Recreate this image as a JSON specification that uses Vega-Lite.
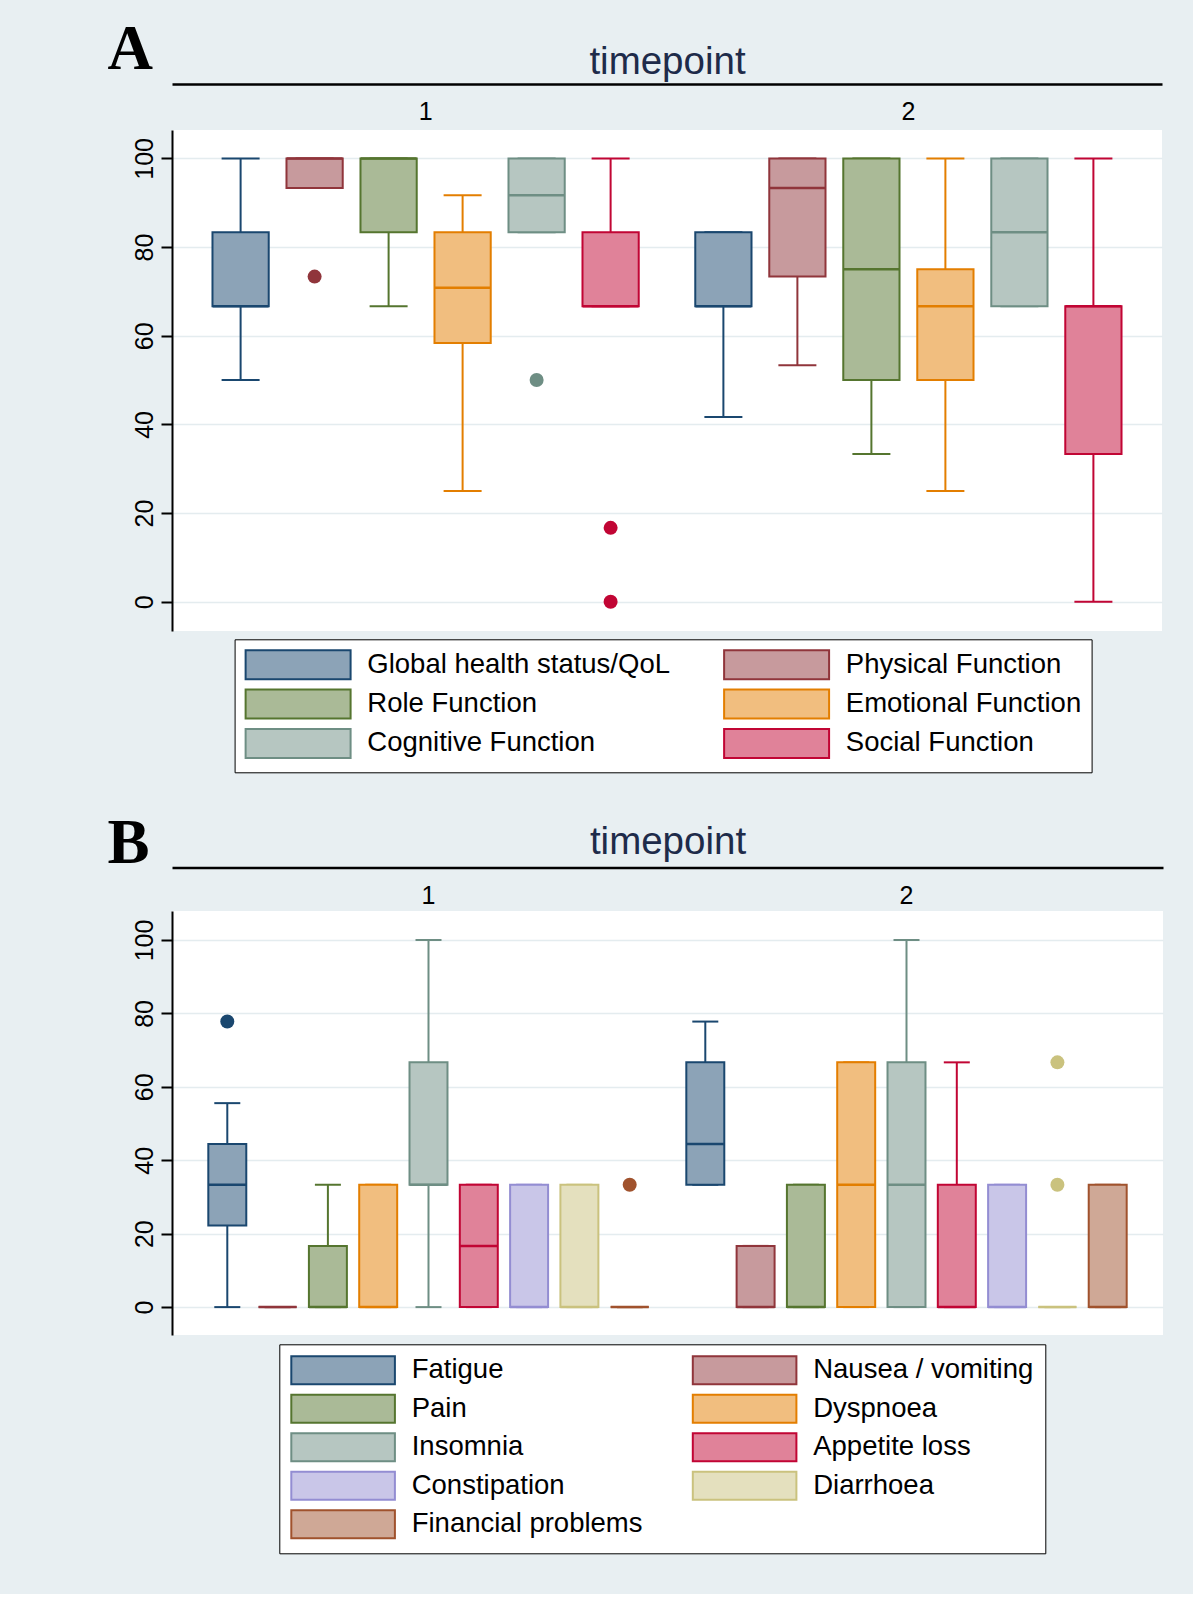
{
  "$schema": "https://vega.github.io/schema/vega-lite/v6.json",
  "background": "#e8eff2",
  "padding": {"left": 107, "top": 18, "right": 30, "bottom": 40},
  "spacing": 39,
  "datasets": {
    "boxA": [
      {"tp": "1", "v": "Global health status/QoL", "lo": 50, "q1": 66.67, "med": 66.67, "q3": 83.33, "hi": 100},
      {"tp": "1", "v": "Physical Function", "lo": 93.33, "q1": 93.33, "med": 100, "q3": 100, "hi": 100},
      {"tp": "1", "v": "Role Function", "lo": 66.67, "q1": 83.33, "med": 100, "q3": 100, "hi": 100},
      {"tp": "1", "v": "Emotional Function", "lo": 25, "q1": 58.33, "med": 70.83, "q3": 83.33, "hi": 91.67},
      {"tp": "1", "v": "Cognitive Function", "lo": 83.33, "q1": 83.33, "med": 91.67, "q3": 100, "hi": 100},
      {"tp": "1", "v": "Social Function", "lo": 66.67, "q1": 66.67, "med": 66.67, "q3": 83.33, "hi": 100},
      {"tp": "2", "v": "Global health status/QoL", "lo": 41.67, "q1": 66.67, "med": 66.67, "q3": 83.33, "hi": 83.33},
      {"tp": "2", "v": "Physical Function", "lo": 53.33, "q1": 73.33, "med": 93.33, "q3": 100, "hi": 100},
      {"tp": "2", "v": "Role Function", "lo": 33.33, "q1": 50, "med": 75, "q3": 100, "hi": 100},
      {"tp": "2", "v": "Emotional Function", "lo": 25, "q1": 50, "med": 66.67, "q3": 75, "hi": 100},
      {"tp": "2", "v": "Cognitive Function", "lo": 66.67, "q1": 66.67, "med": 83.33, "q3": 100, "hi": 100},
      {"tp": "2", "v": "Social Function", "lo": 0, "q1": 33.33, "med": 66.67, "q3": 66.67, "hi": 100}
    ],
    "outA": [
      {"tp": "1", "v": "Physical Function", "val": 73.33},
      {"tp": "1", "v": "Cognitive Function", "val": 50},
      {"tp": "1", "v": "Social Function", "val": 16.67},
      {"tp": "1", "v": "Social Function", "val": 0}
    ],
    "boxB": [
      {"tp": "1", "v": "Fatigue", "lo": 0, "q1": 22.22, "med": 33.33, "q3": 44.44, "hi": 55.56},
      {"tp": "1", "v": "Nausea / vomiting", "lo": 0, "q1": 0, "med": 0, "q3": 0, "hi": 0},
      {"tp": "1", "v": "Pain", "lo": 0, "q1": 0, "med": 0, "q3": 16.67, "hi": 33.33},
      {"tp": "1", "v": "Dyspnoea", "lo": 0, "q1": 0, "med": 0, "q3": 33.33, "hi": 33.33},
      {"tp": "1", "v": "Insomnia", "lo": 0, "q1": 33.33, "med": 33.33, "q3": 66.67, "hi": 100},
      {"tp": "1", "v": "Appetite loss", "lo": 0, "q1": 0, "med": 16.67, "q3": 33.33, "hi": 33.33},
      {"tp": "1", "v": "Constipation", "lo": 0, "q1": 0, "med": 0, "q3": 33.33, "hi": 33.33},
      {"tp": "1", "v": "Diarrhoea", "lo": 0, "q1": 0, "med": 0, "q3": 33.33, "hi": 33.33},
      {"tp": "1", "v": "Financial problems", "lo": 0, "q1": 0, "med": 0, "q3": 0, "hi": 0},
      {"tp": "2", "v": "Fatigue", "lo": 33.33, "q1": 33.33, "med": 44.44, "q3": 66.67, "hi": 77.78},
      {"tp": "2", "v": "Nausea / vomiting", "lo": 0, "q1": 0, "med": 0, "q3": 16.67, "hi": 16.67},
      {"tp": "2", "v": "Pain", "lo": 0, "q1": 0, "med": 0, "q3": 33.33, "hi": 33.33},
      {"tp": "2", "v": "Dyspnoea", "lo": 0, "q1": 0, "med": 33.33, "q3": 66.67, "hi": 66.67},
      {"tp": "2", "v": "Insomnia", "lo": 0, "q1": 0, "med": 33.33, "q3": 66.67, "hi": 100},
      {"tp": "2", "v": "Appetite loss", "lo": 0, "q1": 0, "med": 0, "q3": 33.33, "hi": 66.67},
      {"tp": "2", "v": "Constipation", "lo": 0, "q1": 0, "med": 0, "q3": 33.33, "hi": 33.33},
      {"tp": "2", "v": "Diarrhoea", "lo": 0, "q1": 0, "med": 0, "q3": 0, "hi": 0},
      {"tp": "2", "v": "Financial problems", "lo": 0, "q1": 0, "med": 0, "q3": 33.33, "hi": 33.33}
    ],
    "outB": [
      {"tp": "1", "v": "Fatigue", "val": 77.78},
      {"tp": "1", "v": "Financial problems", "val": 33.33},
      {"tp": "2", "v": "Diarrhoea", "val": 66.67},
      {"tp": "2", "v": "Diarrhoea", "val": 33.33}
    ]
  },
  "vconcat": [
    {
      "width": 990,
      "height": 501,
      "data": {"name": "boxA"},
      "encoding": {
        "x": {"field": "tp", "type": "nominal", "scale": {"paddingInner": 0, "paddingOuter": 0.0253}, "axis": null},
        "xOffset": {"field": "v", "type": "nominal", "scale": {"domain": ["Global health status/QoL", "Physical Function", "Role Function", "Emotional Function", "Cognitive Function", "Social Function"], "paddingInner": 0.24, "paddingOuter": 0.382}},
        "color": {"field": "v", "type": "nominal", "scale": {"range": ["#6e8e84", "#e37e00", "#1a476f", "#90353b", "#55752f", "#c10534"]}, "legend": null}
      },
      "layer": [
        {
          "mark": {"type": "rule", "strokeWidth": 2, "opacity": 1},
          "encoding": {
            "x": {"field": "tp", "type": "nominal", "scale": {"paddingInner": 0, "paddingOuter": 0.0253},
              "axis": {"orient": "top", "offset": 46, "title": "timepoint", "labels": false, "ticks": false, "tickSize": 0, "domain": true, "domainColor": "black", "domainWidth": 2.5, "grid": false, "titleFont": "Liberation Sans", "titleFontSize": 38.5, "titleColor": "#1e2b4a", "titleFontWeight": "normal", "titlePadding": 11, "titleBaseline": "alphabetic"}},
            "y": {"field": "lo", "type": "quantitative", "scale": {"domain": [-6.6, 106.4], "nice": false, "zero": false},
              "axis": {"values": [0, 20, 40, 60, 80, 100], "title": "A", "titleAngle": 0, "titleX": -65, "titleY": -61.7, "titleAlign": "left", "titleBaseline": "alphabetic", "titleFont": "Liberation Serif", "titleFontSize": 63, "titleFontWeight": "bold", "titleColor": "black", "domainColor": "black", "domainWidth": 2, "tickColor": "black", "tickWidth": 2, "tickSize": 11, "labelAngle": -90, "labelAlign": "center", "labelBaseline": "alphabetic", "labelPadding": 9, "labelFont": "Liberation Sans", "labelFontSize": 25, "labelColor": "black", "grid": true, "gridColor": "#e4ecef", "gridWidth": 1.5}},
            "y2": {"field": "hi"}
          }
        },
        {
          "mark": {"type": "tick", "orient": "horizontal", "size": 38, "thickness": 2, "opacity": 1},
          "encoding": {"y": {"field": "lo", "type": "quantitative", "scale": {"domain": [-6.6, 106.4], "nice": false, "zero": false},
            "axis": {"values": [0, 20, 40, 60, 80, 100], "title": "A", "titleAngle": 0, "titleX": -65, "titleY": -61.7, "titleAlign": "left", "titleBaseline": "alphabetic", "titleFont": "Liberation Serif", "titleFontSize": 63, "titleFontWeight": "bold", "titleColor": "black", "domainColor": "black", "domainWidth": 2, "tickColor": "black", "tickWidth": 2, "tickSize": 11, "labelAngle": -90, "labelAlign": "center", "labelBaseline": "alphabetic", "labelPadding": 9, "labelFont": "Liberation Sans", "labelFontSize": 25, "labelColor": "black", "grid": true, "gridColor": "#e4ecef", "gridWidth": 1.5}}}
        },
        {
          "mark": {"type": "tick", "orient": "horizontal", "size": 38, "thickness": 2, "opacity": 1},
          "encoding": {"y": {"field": "hi", "type": "quantitative", "scale": {"domain": [-6.6, 106.4], "nice": false, "zero": false},
            "axis": {"values": [0, 20, 40, 60, 80, 100], "title": "A", "titleAngle": 0, "titleX": -65, "titleY": -61.7, "titleAlign": "left", "titleBaseline": "alphabetic", "titleFont": "Liberation Serif", "titleFontSize": 63, "titleFontWeight": "bold", "titleColor": "black", "domainColor": "black", "domainWidth": 2, "tickColor": "black", "tickWidth": 2, "tickSize": 11, "labelAngle": -90, "labelAlign": "center", "labelBaseline": "alphabetic", "labelPadding": 9, "labelFont": "Liberation Sans", "labelFontSize": 25, "labelColor": "black", "grid": true, "gridColor": "#e4ecef", "gridWidth": 1.5}}}
        },
        {
          "mark": {"type": "bar", "strokeWidth": 2, "opacity": 1},
          "encoding": {
            "x": {"field": "tp", "type": "nominal", "scale": {"paddingInner": 0, "paddingOuter": 0.0253},
              "axis": {"orient": "top", "title": null, "domain": false, "ticks": false, "tickSize": 0, "grid": false, "labelAngle": 0, "labelAlign": "center", "labelBaseline": "alphabetic", "labelPadding": 10.6, "labelFont": "Liberation Sans", "labelFontSize": 25, "labelColor": "black"}},
            "y": {"field": "q1", "type": "quantitative", "scale": {"domain": [-6.6, 106.4], "nice": false, "zero": false},
              "axis": {"values": [0, 20, 40, 60, 80, 100], "title": "A", "titleAngle": 0, "titleX": -65, "titleY": -61.7, "titleAlign": "left", "titleBaseline": "alphabetic", "titleFont": "Liberation Serif", "titleFontSize": 63, "titleFontWeight": "bold", "titleColor": "black", "domainColor": "black", "domainWidth": 2, "tickColor": "black", "tickWidth": 2, "tickSize": 11, "labelAngle": -90, "labelAlign": "center", "labelBaseline": "alphabetic", "labelPadding": 9, "labelFont": "Liberation Sans", "labelFontSize": 25, "labelColor": "black", "grid": true, "gridColor": "#e4ecef", "gridWidth": 1.5}},
            "y2": {"field": "q3"},
            "fill": {"field": "v", "type": "nominal", "scale": {"domain": ["Global health status/QoL", "Physical Function", "Role Function", "Emotional Function", "Cognitive Function", "Social Function"], "range": ["#8ca3b7", "#c79a9d", "#aaba97", "#f1be7f", "#b6c6c1", "#e08299"]},
              "legend": {"orient": "none", "legendX": 62.6, "legendY": 509.3, "direction": "horizontal", "columns": 2, "title": null, "symbolType": "M-3.62,-1H3.62V1H-3.62Z", "symbolSize": 841, "symbolOffset": 38, "symbolStrokeWidth": 2, "labelFont": "Liberation Sans", "labelFontSize": 27.5, "labelColor": "black", "labelOffset": 53.7, "labelLimit": 500, "columnPadding": 49.5, "rowPadding": 2.3, "padding": 10, "strokeColor": "black", "fillColor": "white"}},
            "stroke": {"field": "v", "type": "nominal", "scale": {"domain": ["Global health status/QoL", "Physical Function", "Role Function", "Emotional Function", "Cognitive Function", "Social Function"], "range": ["#1a476f", "#90353b", "#55752f", "#e37e00", "#6e8e84", "#c10534"]},
              "legend": {"orient": "none", "legendX": 62.6, "legendY": 509.3, "direction": "horizontal", "columns": 2, "title": null, "symbolType": "M-3.62,-1H3.62V1H-3.62Z", "symbolSize": 841, "symbolOffset": 38, "symbolStrokeWidth": 2, "labelFont": "Liberation Sans", "labelFontSize": 27.5, "labelColor": "black", "labelOffset": 53.7, "labelLimit": 500, "columnPadding": 49.5, "rowPadding": 2.3, "padding": 10, "strokeColor": "black", "fillColor": "white"}}
          }
        },
        {
          "mark": {"type": "tick", "orient": "horizontal", "size": 56, "thickness": 2.5, "opacity": 1},
          "encoding": {"y": {"field": "med", "type": "quantitative", "scale": {"domain": [-6.6, 106.4], "nice": false, "zero": false},
            "axis": {"values": [0, 20, 40, 60, 80, 100], "title": "A", "titleAngle": 0, "titleX": -65, "titleY": -61.7, "titleAlign": "left", "titleBaseline": "alphabetic", "titleFont": "Liberation Serif", "titleFontSize": 63, "titleFontWeight": "bold", "titleColor": "black", "domainColor": "black", "domainWidth": 2, "tickColor": "black", "tickWidth": 2, "tickSize": 11, "labelAngle": -90, "labelAlign": "center", "labelBaseline": "alphabetic", "labelPadding": 9, "labelFont": "Liberation Sans", "labelFontSize": 25, "labelColor": "black", "grid": true, "gridColor": "#e4ecef", "gridWidth": 1.5}}}
        },
        {
          "data": {"name": "outA"},
          "mark": {"type": "point", "shape": "circle", "filled": true, "size": 196, "opacity": 1},
          "encoding": {"y": {"field": "val", "type": "quantitative", "scale": {"domain": [-6.6, 106.4], "nice": false, "zero": false},
            "axis": {"values": [0, 20, 40, 60, 80, 100], "title": "A", "titleAngle": 0, "titleX": -65, "titleY": -61.7, "titleAlign": "left", "titleBaseline": "alphabetic", "titleFont": "Liberation Serif", "titleFontSize": 63, "titleFontWeight": "bold", "titleColor": "black", "domainColor": "black", "domainWidth": 2, "tickColor": "black", "tickWidth": 2, "tickSize": 11, "labelAngle": -90, "labelAlign": "center", "labelBaseline": "alphabetic", "labelPadding": 9, "labelFont": "Liberation Sans", "labelFontSize": 25, "labelColor": "black", "grid": true, "gridColor": "#e4ecef", "gridWidth": 1.5}}}
        }
      ],
      "resolve": {"axis": {"x": "independent"}}
    },
    {
      "width": 991,
      "height": 424,
      "data": {"name": "boxB"},
      "encoding": {
        "x": {"field": "tp", "type": "nominal", "scale": {"paddingInner": 0, "paddingOuter": 0.0366}, "axis": null},
        "xOffset": {"field": "v", "type": "nominal", "scale": {"domain": ["Fatigue", "Nausea / vomiting", "Pain", "Dyspnoea", "Insomnia", "Appetite loss", "Constipation", "Diarrhoea", "Financial problems"], "paddingInner": 0.245, "paddingOuter": 0.374}},
        "color": {"field": "v", "type": "nominal", "scale": {"range": ["#c10534", "#938dd2", "#cac27e", "#e37e00", "#1a476f", "#a0522d", "#6e8e84", "#90353b", "#55752f"]}, "legend": null}
      },
      "layer": [
        {
          "mark": {"type": "rule", "strokeWidth": 2, "opacity": 1},
          "encoding": {
            "x": {"field": "tp", "type": "nominal", "scale": {"paddingInner": 0, "paddingOuter": 0.0366},
              "axis": {"orient": "top", "offset": 43.4, "title": "timepoint", "labels": false, "ticks": false, "tickSize": 0, "domain": true, "domainColor": "black", "domainWidth": 2.5, "grid": false, "titleFont": "Liberation Sans", "titleFontSize": 38.5, "titleColor": "#1e2b4a", "titleFontWeight": "normal", "titlePadding": 14, "titleBaseline": "alphabetic"}},
            "y": {"field": "lo", "type": "quantitative", "scale": {"domain": [-7.6, 107.9], "nice": false, "zero": false},
              "axis": {"values": [0, 20, 40, 60, 80, 100], "title": "B", "titleAngle": 0, "titleX": -65, "titleY": -48.7, "titleAlign": "left", "titleBaseline": "alphabetic", "titleFont": "Liberation Serif", "titleFontSize": 63, "titleFontWeight": "bold", "titleColor": "black", "domainColor": "black", "domainWidth": 2, "tickColor": "black", "tickWidth": 2, "tickSize": 11, "labelAngle": -90, "labelAlign": "center", "labelBaseline": "alphabetic", "labelPadding": 9, "labelFont": "Liberation Sans", "labelFontSize": 25, "labelColor": "black", "grid": true, "gridColor": "#e4ecef", "gridWidth": 1.5}},
            "y2": {"field": "hi"}
          }
        },
        {
          "mark": {"type": "tick", "orient": "horizontal", "size": 26, "thickness": 2, "opacity": 1},
          "encoding": {"y": {"field": "lo", "type": "quantitative", "scale": {"domain": [-7.6, 107.9], "nice": false, "zero": false},
            "axis": {"values": [0, 20, 40, 60, 80, 100], "title": "B", "titleAngle": 0, "titleX": -65, "titleY": -48.7, "titleAlign": "left", "titleBaseline": "alphabetic", "titleFont": "Liberation Serif", "titleFontSize": 63, "titleFontWeight": "bold", "titleColor": "black", "domainColor": "black", "domainWidth": 2, "tickColor": "black", "tickWidth": 2, "tickSize": 11, "labelAngle": -90, "labelAlign": "center", "labelBaseline": "alphabetic", "labelPadding": 9, "labelFont": "Liberation Sans", "labelFontSize": 25, "labelColor": "black", "grid": true, "gridColor": "#e4ecef", "gridWidth": 1.5}}}
        },
        {
          "mark": {"type": "tick", "orient": "horizontal", "size": 26, "thickness": 2, "opacity": 1},
          "encoding": {"y": {"field": "hi", "type": "quantitative", "scale": {"domain": [-7.6, 107.9], "nice": false, "zero": false},
            "axis": {"values": [0, 20, 40, 60, 80, 100], "title": "B", "titleAngle": 0, "titleX": -65, "titleY": -48.7, "titleAlign": "left", "titleBaseline": "alphabetic", "titleFont": "Liberation Serif", "titleFontSize": 63, "titleFontWeight": "bold", "titleColor": "black", "domainColor": "black", "domainWidth": 2, "tickColor": "black", "tickWidth": 2, "tickSize": 11, "labelAngle": -90, "labelAlign": "center", "labelBaseline": "alphabetic", "labelPadding": 9, "labelFont": "Liberation Sans", "labelFontSize": 25, "labelColor": "black", "grid": true, "gridColor": "#e4ecef", "gridWidth": 1.5}}}
        },
        {
          "mark": {"type": "bar", "strokeWidth": 2, "opacity": 1},
          "encoding": {
            "x": {"field": "tp", "type": "nominal", "scale": {"paddingInner": 0, "paddingOuter": 0.0366},
              "axis": {"orient": "top", "title": null, "domain": false, "ticks": false, "tickSize": 0, "grid": false, "labelAngle": 0, "labelAlign": "center", "labelBaseline": "alphabetic", "labelPadding": 7.7, "labelFont": "Liberation Sans", "labelFontSize": 25, "labelColor": "black"}},
            "y": {"field": "q1", "type": "quantitative", "scale": {"domain": [-7.6, 107.9], "nice": false, "zero": false},
              "axis": {"values": [0, 20, 40, 60, 80, 100], "title": "B", "titleAngle": 0, "titleX": -65, "titleY": -48.7, "titleAlign": "left", "titleBaseline": "alphabetic", "titleFont": "Liberation Serif", "titleFontSize": 63, "titleFontWeight": "bold", "titleColor": "black", "domainColor": "black", "domainWidth": 2, "tickColor": "black", "tickWidth": 2, "tickSize": 11, "labelAngle": -90, "labelAlign": "center", "labelBaseline": "alphabetic", "labelPadding": 9, "labelFont": "Liberation Sans", "labelFontSize": 25, "labelColor": "black", "grid": true, "gridColor": "#e4ecef", "gridWidth": 1.5}},
            "y2": {"field": "q3"},
            "fill": {"field": "v", "type": "nominal", "scale": {"domain": ["Fatigue", "Nausea / vomiting", "Pain", "Dyspnoea", "Insomnia", "Appetite loss", "Constipation", "Diarrhoea", "Financial problems"], "range": ["#8ca3b7", "#c79a9d", "#aaba97", "#f1be7f", "#b6c6c1", "#e08299", "#c9c6e8", "#e4e0be", "#cfa896"]},
              "legend": {"orient": "none", "legendX": 107.3, "legendY": 433.3, "direction": "horizontal", "columns": 2, "title": null, "symbolType": "M-3.7,-1H3.7V1H-3.7Z", "symbolSize": 784, "symbolOffset": 37.8, "symbolStrokeWidth": 2, "labelFont": "Liberation Sans", "labelFontSize": 27.5, "labelColor": "black", "labelOffset": 53.6, "labelLimit": 500, "columnPadding": 44.5, "rowPadding": 2.5, "padding": 11, "strokeColor": "black", "fillColor": "white"}},
            "stroke": {"field": "v", "type": "nominal", "scale": {"domain": ["Fatigue", "Nausea / vomiting", "Pain", "Dyspnoea", "Insomnia", "Appetite loss", "Constipation", "Diarrhoea", "Financial problems"], "range": ["#1a476f", "#90353b", "#55752f", "#e37e00", "#6e8e84", "#c10534", "#938dd2", "#cac27e", "#a0522d"]},
              "legend": {"orient": "none", "legendX": 107.3, "legendY": 433.3, "direction": "horizontal", "columns": 2, "title": null, "symbolType": "M-3.7,-1H3.7V1H-3.7Z", "symbolSize": 784, "symbolOffset": 37.8, "symbolStrokeWidth": 2, "labelFont": "Liberation Sans", "labelFontSize": 27.5, "labelColor": "black", "labelOffset": 53.6, "labelLimit": 500, "columnPadding": 44.5, "rowPadding": 2.5, "padding": 11, "strokeColor": "black", "fillColor": "white"}}
          }
        },
        {
          "mark": {"type": "tick", "orient": "horizontal", "size": 38, "thickness": 2.5, "opacity": 1},
          "encoding": {"y": {"field": "med", "type": "quantitative", "scale": {"domain": [-7.6, 107.9], "nice": false, "zero": false},
            "axis": {"values": [0, 20, 40, 60, 80, 100], "title": "B", "titleAngle": 0, "titleX": -65, "titleY": -48.7, "titleAlign": "left", "titleBaseline": "alphabetic", "titleFont": "Liberation Serif", "titleFontSize": 63, "titleFontWeight": "bold", "titleColor": "black", "domainColor": "black", "domainWidth": 2, "tickColor": "black", "tickWidth": 2, "tickSize": 11, "labelAngle": -90, "labelAlign": "center", "labelBaseline": "alphabetic", "labelPadding": 9, "labelFont": "Liberation Sans", "labelFontSize": 25, "labelColor": "black", "grid": true, "gridColor": "#e4ecef", "gridWidth": 1.5}}}
        },
        {
          "data": {"name": "outB"},
          "mark": {"type": "point", "shape": "circle", "filled": true, "size": 196, "opacity": 1},
          "encoding": {"y": {"field": "val", "type": "quantitative", "scale": {"domain": [-7.6, 107.9], "nice": false, "zero": false},
            "axis": {"values": [0, 20, 40, 60, 80, 100], "title": "B", "titleAngle": 0, "titleX": -65, "titleY": -48.7, "titleAlign": "left", "titleBaseline": "alphabetic", "titleFont": "Liberation Serif", "titleFontSize": 63, "titleFontWeight": "bold", "titleColor": "black", "domainColor": "black", "domainWidth": 2, "tickColor": "black", "tickWidth": 2, "tickSize": 11, "labelAngle": -90, "labelAlign": "center", "labelBaseline": "alphabetic", "labelPadding": 9, "labelFont": "Liberation Sans", "labelFontSize": 25, "labelColor": "black", "grid": true, "gridColor": "#e4ecef", "gridWidth": 1.5}}}
        }
      ],
      "resolve": {"axis": {"x": "independent"}}
    }
  ],
  "resolve": {
    "scale": {"x": "independent", "y": "independent", "xOffset": "independent", "color": "independent", "fill": "independent", "stroke": "independent"},
    "legend": {"color": "independent", "fill": "independent", "stroke": "independent"},
    "axis": {"x": "independent", "y": "independent"}
  },
  "config": {
    "font": "Liberation Sans",
    "view": {"fill": "white", "stroke": null}
  }
}
